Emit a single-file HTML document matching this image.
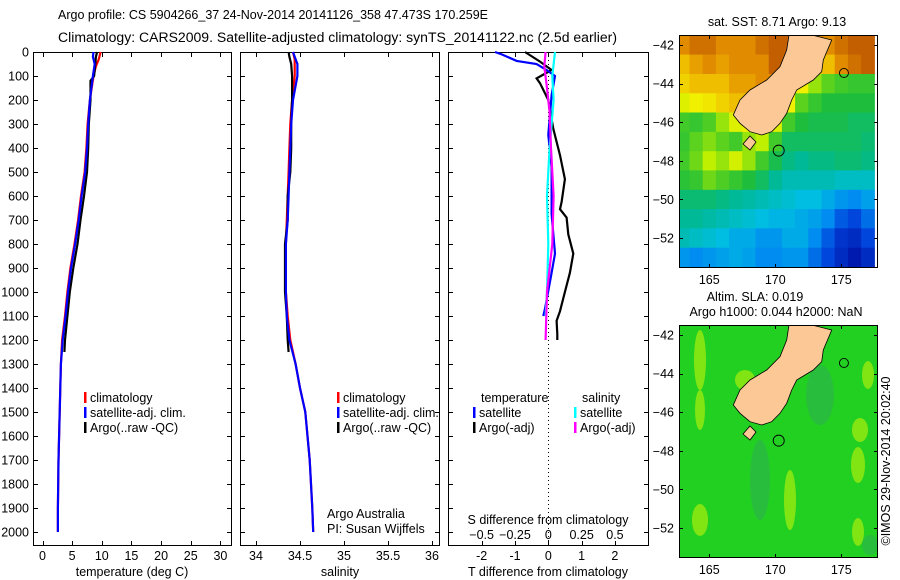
<!DOCTYPE html>
<html><head><meta charset="utf-8">
<style>
html,body{margin:0;padding:0;background:#fff;}
svg{display:block;font-family:"Liberation Sans",Arial,sans-serif;font-size:12.5px;}
</style></head>
<body>
<svg id="c" width="900" height="580" viewBox="0 0 900 580" xmlns="http://www.w3.org/2000/svg">
<text x="58" y="19" textLength="430" lengthAdjust="spacingAndGlyphs">Argo profile: CS 5904266_37 24-Nov-2014 20141126_358 47.473S 170.259E</text>
<text x="58" y="42" textLength="559" lengthAdjust="spacingAndGlyphs" style="font-size:13.5px">Climatology: CARS2009. Satellite-adjusted climatology: synTS_20141122.nc (2.5d earlier)</text>
<g id="g"></g>
</svg>
<script>
// ---- data ----
const depthTicks = [0,100,200,300,400,500,600,700,800,900,1000,1100,1200,1300,1400,1500,1600,1700,1800,1900,2000];
const tempTicks = [0,5,10,15,20,25,30];
const salTicks = [34,34.5,35,35.5,36];
const tdiffTicks = [-2,-1,0,1,2];
const sdiffTicks = [-0.5,-0.25,0,0.25,0.5];

const climDepth = [0,30,60,100,200,300,400,500,600,700,800,900,1000,1100,1200,1300,1400,1500,1700,1900,2000];
const climTemp  = [9.8,9.5,9.0,8.6,8.0,7.6,7.4,7.1,6.5,6.0,5.4,4.7,4.2,3.8,3.3,3.1,3.0,2.9,2.7,2.6,2.6];
const climSal   = [34.42,34.44,34.44,34.44,34.41,34.39,34.38,34.37,34.36,34.35,34.34,34.34,34.34,34.36,34.39,34.45,34.5,34.56,34.61,34.64,34.65];

const satDepth = [0,20,50,100,200,300,400,500,600,700,800,900,1000,1100,1200,1300,1400,1500,1700,1900,2000];
const satTemp  = [8.6,8.5,8.8,8.5,8.0,7.7,7.5,7.2,6.6,6.1,5.5,4.8,4.3,3.9,3.4,3.1,3.0,2.9,2.7,2.6,2.6];
const satSal   = [34.42,34.44,34.47,34.47,34.42,34.40,34.39,34.38,34.37,34.36,34.34,34.34,34.34,34.35,34.38,34.45,34.5,34.56,34.61,34.64,34.65];

const argoDepth = [0,20,50,100,120,200,300,400,500,600,700,800,900,1000,1100,1200,1250];
const argoTemp  = [9.2,9.0,8.9,8.7,8.1,8.1,7.8,7.7,7.5,7.0,6.4,5.9,5.2,4.6,4.2,3.8,3.7];
const argoSal   = [34.37,34.38,34.40,34.41,34.41,34.41,34.40,34.40,34.39,34.36,34.36,34.33,34.33,34.33,34.35,34.36,34.37];

const tSatDepth = [0,10,37,50,75,100,180,345,480,675,840,920,1070,1100];
const tSatDiff  = [-1.6,-1.4,-0.95,-0.35,-0.05,0.2,0.1,0.0,0.1,0.1,0.2,0.1,-0.1,-0.15];
const tArgoDepth = [0,40,75,110,130,200,320,430,530,625,655,690,760,840,920,1000,1080,1120,1175,1200];
const tArgoDiff  = [-0.7,-0.25,0.1,-0.35,-0.25,0.0,0.15,0.35,0.5,0.4,0.35,0.55,0.6,0.75,0.65,0.5,0.35,0.25,0.27,0.27];
const sSatDepth = [0,100,200,400,600,800,1000,1100];
const sSatDiff  = [0.05,0.03,0.04,0.01,-0.01,0.0,-0.01,-0.02];
const sArgoDepth = [0,60,150,250,400,600,800,1000,1100,1200];
const sArgoDiff  = [-0.02,-0.03,-0.01,0.01,0.02,0.04,0.03,-0.01,-0.015,-0.02];

const lonTicks = [165,170,175];
const latTicks = [-42,-44,-46,-48,-50,-52];
const sstRows = [
[11.5,11.8,11.8,11.5,11.5,11.5,11.8,12,12,12,11.5,11.5,11.8,12,12.2],
[11,11.3,11.5,11.3,11.5,11.5,11.5,12,12,11.5,11,11,11.5,11.8,12],
[10.8,11,11,11,11.3,11.3,11.5,11.5,11,10.5,9.8,9.5,9.3,9.2,9.2],
[10.3,10.5,10.6,10.8,11,11,11,11,10.5,9.5,9.2,9,9,9,9],
[9.3,9.2,9.4,9.8,10.3,10.5,10.5,10.3,9.3,9,8.9,8.9,8.9,8.8,8.8],
[9.2,9.5,9.7,9.5,9.3,9.8,10,9.3,8.8,8.8,8.8,8.8,8.8,8.8,8.7],
[9.3,9.6,10,9.8,10.2,9.8,9.3,8.9,8.6,8.5,8.6,8.6,8.7,8.7,8.6],
[9.1,9.2,9.6,9.4,9.2,9,8.8,8.5,8.3,8.3,8.3,8.3,8.2,8.2,8.2],
[8.7,8.7,8.7,8.6,8.5,8.4,8.3,8.2,8.1,8,8,7.8,7.6,7.5,7.7],
[8.5,8.5,8.4,8.3,8.2,8.1,8,7.9,7.9,7.8,7.7,7.5,7,6.8,7.2],
[8.3,8.2,8.1,8,7.8,7.8,7.6,7.6,7.8,7.8,7.5,7,6.6,6.5,6.8],
[7.6,7.5,7.6,7.7,7.8,7.7,7.5,7.5,7.6,7.6,7.2,6.8,6.5,6.3,6.5]];

// ---- helpers ----
const NS='http://www.w3.org/2000/svg';
const G=document.getElementById('g');
function mk(tag,attrs,parent){const e=document.createElementNS(NS,tag);for(const k in attrs)e.setAttribute(k,attrs[k]);(parent||G).appendChild(e);return e;}
function txt(x,y,s,anchor,parent){const e=mk('text',{x:x,y:y,'text-anchor':anchor||'start'},parent);e.textContent=s;return e;}

const Y0=52, YS=0.24, BOT=545;
const yD=d=>Y0+d*YS;
const panels=[{x0:33,x1:231},{x0:240,x1:439},{x0:448,x1:648}];
const xT=v=>42.5+v*5.93;
const xS=v=>256+(v-34)*88;
const xTd=v=>548.3+v*33.3;
const xSd=v=>548.3+v*133.3;

panels.forEach((p,i)=>{
  const r=mk('rect',{x:p.x0+0.5,y:Y0+0.5,width:p.x1-p.x0,height:BOT-Y0,fill:'none',stroke:'#000','stroke-width':1});
  
  
  depthTicks.forEach(d=>{
    mk('line',{x1:p.x0,x2:p.x0+5,y1:yD(d)+0.5,y2:yD(d)+0.5,stroke:'#000'});
    mk('line',{x1:p.x1-4,x2:p.x1+1,y1:yD(d)+0.5,y2:yD(d)+0.5,stroke:'#000'});
  });
});
depthTicks.forEach(d=>{
  const t=txt(29,yD(d)+4.5,String(d),'end');
  
  
});
function xticks(vals,f,labelY){
  vals.forEach(v=>{const x=Math.round(f(v))+0.5;
    mk('line',{x1:x,x2:x,y1:Y0,y2:Y0+5,stroke:'#000'});
    mk('line',{x1:x,x2:x,y1:BOT-4,y2:BOT+1,stroke:'#000'});
    if(labelY){const t=txt(f(v),labelY,String(v),'middle');
      
      }
  });
}
xticks(tempTicks,xT,560);
xticks(salTicks,xS,560);
xticks(tdiffTicks,xTd,560);
sdiffTicks.forEach(v=>{const t=txt(xSd(v),539,v===0?'0':String(v).replace('-','\u2212'),'middle');
  
  });
[[132,'temperature (deg C)','x-axis-title-temperature'],[340,'salinity','x-axis-title-salinity'],[548,'T difference from climatology','x-axis-title-tdiff']].forEach(a=>{
  const t=txt(a[0],576,a[1],'middle');
  
  });
{const t=txt(548,524,'S difference from climatology','middle');

}

mk('line',{x1:548.5,x2:548.5,y1:Y0,y2:BOT,stroke:'#000','stroke-dasharray':'1,3'});

function series(ds,vs,f,color,name){
  const pts=ds.map((d,i)=>f(vs[i]).toFixed(1)+','+yD(d).toFixed(1)).join(' ');
  const e=mk('polyline',{points:pts,fill:'none',stroke:color,'stroke-width':2.2,'stroke-linejoin':'miter'});
  
  
}
series(climDepth,climTemp,xT,'#f00','climatology-temperature-line');
series(argoDepth,argoTemp,xT,'#000','argo-temperature-line');
series(satDepth,satTemp,xT,'#00f','satellite-temperature-line');
series(climDepth,climSal,xS,'#f00','climatology-salinity-line');
series(argoDepth,argoSal,xS,'#000','argo-salinity-line');
series(satDepth,satSal,xS,'#00f','satellite-salinity-line');
series(tArgoDepth,tArgoDiff,xTd,'#000','argo-t-diff-line');
series(tSatDepth,tSatDiff,xTd,'#00f','satellite-t-diff-line');
series(sSatDepth,sSatDiff,xSd,'#0ff','satellite-s-diff-line');
series(sArgoDepth,sArgoDiff,xSd,'#f0f','argo-s-diff-line');

function leg(x,y,color,label,name){
  mk('rect',{x:x,y:y-10,width:2.5,height:11,fill:color});
  const t=txt(x+6,y,label);
  
  
}
[[84,'t'],[337,'s']].forEach(a=>{
  leg(a[0],402,'#f00','climatology','legend-climatology-'+a[1]);
  leg(a[0],417,'#00f','satellite-adj. clim.','legend-satellite-'+a[1]);
  leg(a[0],432,'#000','Argo(..raw -QC)','legend-argo-'+a[1]);
});
{const t=txt(481,402,'temperature');}
{const t=txt(582,402,'salinity');}
leg(473,417,'#00f','satellite','legend-t-satellite');
leg(473,432,'#000','Argo(-adj)','legend-t-argo');
leg(574,417,'#0ff','satellite','legend-s-satellite');
leg(574,432,'#f0f','Argo(-adj)','legend-s-argo');
{const t=txt(327,518,'Argo Australia');}
{const t=txt(327,533,'PI: Susan Wijffels');}

// ---- maps ----
const MX0=679,MX1=877,LONS=13.2,LATS=19.3;
const xLon=l=>709.3+(l-165)*LONS;
const stops=[[6,[0,0,150]],[6.8,[0,70,220]],[7.5,[0,140,240]],[8,[0,190,225]],[8.5,[0,185,150]],[9,[30,190,60]],[9.5,[90,210,30]],[10,[190,240,0]],[10.5,[240,240,0]],[11,[240,190,0]],[11.5,[225,140,0]],[12,[195,95,0]]];
function cmap(v){if(v<=stops[0][0])return 'rgb('+stops[0][1]+')';
  for(let i=1;i<stops.length;i++){if(v<=stops[i][0]){const a=stops[i-1],b=stops[i],t=(v-a[0])/(b[0]-a[0]);
    return 'rgb('+a[1].map((c,k)=>Math.round(c+(b[1][k]-c)*t)).join(',')+')';}}
  return 'rgb('+stops[stops.length-1][1]+')';}
const land="789,35 812,35 831.7,40 823.3,60 821.7,71.7 813.3,80 796.7,90 791.7,100 786.7,113.3 780,123.3 771.7,131.7 761.7,135 750,131.7 740,123.3 733.3,115 740,100 750,90 766.7,80 780,66.7 786.7,50";

function drawMap(top,bottom,lat42,kind){
  const yLat=l=>lat42+(-42-l)*LATS;
  const clipId='clip'+kind;
  const cp=mk('clipPath',{id:clipId});mk('rect',{x:MX0,y:top,width:MX1-MX0,height:bottom-top},cp);
  const g=mk('g',{'clip-path':'url(#'+clipId+')'});
  
  
  if(kind==='sst'){
    sstRows.forEach((row,r)=>row.forEach((v,c)=>{
      const lon=163+c, lat=-42-r;
      const cell=mk('rect',{x:(xLon(lon-0.5)).toFixed(1),y:(yLat(lat+0.5)).toFixed(1),width:LONS+0.6,height:LATS+0.6,fill:cmap(v)},g);
      
      
    }));
  } else {
    mk('rect',{x:MX0,y:top,width:MX1-MX0,height:bottom-top,fill:'#22d022'},g);
    [[700,360,6,30],[700,410,5,20],[858,465,7,18],[858,532,6,14],[868,375,6,14],[860,430,8,12],[700,520,8,16],[745,380,10,10],[790,500,6,30]].forEach(e=>
      mk('ellipse',{cx:e[0],cy:e[1],rx:e[2],ry:e[3],fill:'#9ae810',opacity:0.8},g));
    [[820,395,14,30],[760,480,10,40],[870,545,8,10]].forEach(e=>
      mk('ellipse',{cx:e[0],cy:e[1],rx:e[2],ry:e[3],fill:'#2fb050',opacity:0.6},g));
  }
  const dy=lat42-45;
  const L=mk('polygon',{points:land,transform:'translate(0,'+dy+')',fill:'#fcc896',stroke:'#000','stroke-width':0.8},g);
  
  
  mk('polygon',{points:'743,144 750,136 756,142 750,150',transform:'translate(0,'+dy+')',fill:'#fcc896',stroke:'#000','stroke-width':0.8},g);
  const circ=mk('circle',{cx:xLon(170.259),cy:yLat(-47.473),r:5.5,fill:'none',stroke:'#000','stroke-width':0.9});
  
  
  mk('circle',{cx:xLon(175.2),cy:yLat(-43.45),r:4.5,fill:'none',stroke:'#000','stroke-width':0.9});
  mk('rect',{x:MX0+0.5,y:top+0.5,width:MX1-MX0,height:bottom-top,fill:'none',stroke:'#000'});
  lonTicks.forEach(l=>{const x=Math.round(xLon(l))+0.5;
    mk('line',{x1:x,x2:x,y1:top,y2:top+4,stroke:'#000'});
    mk('line',{x1:x,x2:x,y1:bottom-3,y2:bottom+1,stroke:'#000'});
    const t=txt(xLon(l),bottom+17,String(l),'middle');
    
    });
  latTicks.forEach(l=>{const y=Math.round(yLat(l))+0.5;
    mk('line',{x1:MX0,x2:MX0+4,y1:y,y2:y,stroke:'#000'});
    mk('line',{x1:MX1-3,x2:MX1+1,y1:y,y2:y,stroke:'#000'});
    const t=txt(674,yLat(l)+4.5,'\u2212'+String(-l),'end');
    
    });
}
drawMap(35,267,45,'sst');
drawMap(325,557,335,'sla');
{const t=txt(777,26,'sat. SST: 8.71  Argo: 9.13','middle');}
{const t=txt(755,301,'Altim. SLA: 0.019','middle');}
{const t=txt(776,316,'Argo h1000: 0.044 h2000: NaN','middle');}
{const t=txt(0,0,'\u00a9IMOS 29-Nov-2014 20:02:40','middle');t.setAttribute('transform','translate(890,461) rotate(-90)');
}
</script>
</body></html>
